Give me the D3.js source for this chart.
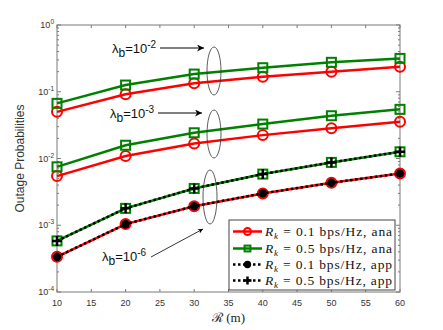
<!DOCTYPE html>
<html>
<head>
<meta charset="utf-8">
<script src="https://cdn.jsdelivr.net/npm/d3@7"></script>
<style>
body { margin: 0; background: #fff; }
svg text { font-family: "Liberation Sans", Arial, sans-serif; }
</style>
</head>
<body>
<svg id="chart" width="443" height="330"></svg>
<script>
// radius R (m)
var radius = [10, 20, 30, 40, 50, 60];

// lambda_b = 10^-2
var ana01_l2 = [0.050, 0.092, 0.134, 0.168, 0.200, 0.237];
var ana05_l2 = [0.067, 0.126, 0.184, 0.229, 0.276, 0.316];
// lambda_b = 10^-3
var ana01_l3 = [0.00545, 0.0109, 0.0168, 0.0224, 0.0283, 0.0355];
var ana05_l3 = [0.0075, 0.0158, 0.0243, 0.0328, 0.0437, 0.0545];
// lambda_b = 10^-6 (ana and app lie on top of each other)
var ana01_l6 = [0.000336, 0.00104, 0.00193, 0.0030, 0.00432, 0.00597];
var ana05_l6 = [0.000583, 0.00179, 0.00356, 0.00584, 0.00874, 0.0126];
var app01_l6 = [0.000336, 0.00104, 0.00193, 0.0030, 0.00432, 0.00597];
var app05_l6 = [0.000583, 0.00179, 0.00356, 0.00584, 0.00874, 0.0126];

var xTicks = [10, 15, 20, 25, 30, 35, 40, 45, 50, 55, 60];
var yExps = [0, -1, -2, -3, -4];
var legendRates = ["0.1", "0.5", "0.1", "0.5"];
var legendKinds = ["ana", "ana", "app", "app"];

var svg = d3.select("#chart");
var pLeft = 57, pRight = 400, pTop = 25, pBottom = 292;

var x = d3.scaleLinear().domain([10, 60]).range([pLeft, pRight]);
var y = d3.scaleLog().domain([1e-4, 1]).range([pBottom, pTop]);

var RED = "#ff0000", GREEN = "#008000", AXC = "#7a7a7a";

//axes box with ticks on all four sides
function drawAxes() {
  var g = svg.append("g");
  g.append("rect")
      .attr("x", pLeft).attr("y", pTop)
      .attr("width", pRight - pLeft).attr("height", pBottom - pTop)
      .attr("fill", "none").attr("stroke", AXC).attr("stroke-width", 1);

  xTicks.forEach(function(t) {
    var px = x(t);
    g.append("line").attr("x1", px).attr("x2", px).attr("y1", pBottom).attr("y2", pBottom - 3).attr("stroke", AXC);
    g.append("line").attr("x1", px).attr("x2", px).attr("y1", pTop).attr("y2", pTop + 3).attr("stroke", AXC);
    g.append("text").attr("x", px).attr("y", pBottom + 14)
        .attr("text-anchor", "middle").attr("font-size", 9).attr("fill", "#333")
        .text(t);
  });

  // minor log ticks
  for (var e = -4; e < 0; e++) {
    for (var m = 2; m <= 9; m++) {
      var py = y(m * Math.pow(10, e));
      g.append("line").attr("x1", pLeft).attr("x2", pLeft + 2).attr("y1", py).attr("y2", py).attr("stroke", AXC);
      g.append("line").attr("x1", pRight).attr("x2", pRight - 2).attr("y1", py).attr("y2", py).attr("stroke", AXC);
    }
  }

  yExps.forEach(function(e) {
    var py = y(Math.pow(10, e));
    g.append("line").attr("x1", pLeft).attr("x2", pLeft + 4).attr("y1", py).attr("y2", py).attr("stroke", AXC);
    g.append("line").attr("x1", pRight).attr("x2", pRight - 4).attr("y1", py).attr("y2", py).attr("stroke", AXC);
    var t = g.append("text").attr("x", pLeft - 3).attr("y", py + 3)
        .attr("text-anchor", "end").attr("font-size", 9).attr("fill", "#333");
    t.append("tspan").text("10");
    t.append("tspan").attr("dy", -4).attr("font-size", 6.5).text(e);
  });

  svg.append("text")
      .attr("transform", "translate(24," + ((pTop + pBottom) / 2) + ") rotate(-90)")
      .attr("text-anchor", "middle").attr("font-size", 12).attr("fill", "#333")
      .text("Outage Probabilities");

  svg.append("text")
      .attr("x", (pLeft + pRight) / 2).attr("y", 322)
      .attr("text-anchor", "middle").attr("font-size", 13)
      .style("font-family", "'Liberation Serif', serif").attr("fill", "#222")
      .text("\u211B (m)");
}

var line = d3.line()
    .x(function(d, i) { return x(radius[i]); })
    .y(function(d) { return y(d); });

function drawSolid(data, color) {
  svg.append("path").datum(data)
      .attr("d", line).attr("fill", "none")
      .attr("stroke", color).attr("stroke-width", 2.5);
}

function drawDotted(data) {
  svg.append("path").datum(data)
      .attr("d", line).attr("fill", "none")
      .attr("stroke", "#000").attr("stroke-width", 2.5)
      .attr("stroke-dasharray", "2.5,2.5");
}

// s = marker scale (plot 1, legend smaller)
function circleMark(g, cx, cy, s) {
  s = s || 1;
  g.append("circle").attr("cx", cx).attr("cy", cy).attr("r", 5 * s)
      .attr("fill", "none").attr("stroke", RED).attr("stroke-width", 2);
}
function squareMark(g, cx, cy, s) {
  s = s || 1;
  g.append("rect").attr("x", cx - 4.5 * s).attr("y", cy - 4.5 * s).attr("width", 9 * s).attr("height", 9 * s)
      .attr("fill", "none").attr("stroke", GREEN).attr("stroke-width", 2);
}
function dotMark(g, cx, cy, s) {
  s = s || 1;
  g.append("circle").attr("cx", cx).attr("cy", cy).attr("r", 4.3 * s).attr("fill", "#000");
}
function plusMark(g, cx, cy, s) {
  s = s || 1;
  var h = 5 * s;
  g.append("path").attr("d", "M" + (cx - h) + "," + cy + "H" + (cx + h) + "M" + cx + "," + (cy - h) + "V" + (cy + h))
      .attr("stroke", "#000").attr("stroke-width", 2.5);
}

function drawMarks(data, fn) {
  var g = svg.append("g");
  data.forEach(function(d, i) { fn(g, x(radius[i]), y(d)); });
}

function drawAnnotations() {
  var defs = svg.append("defs");
  defs.append("marker").attr("id", "bigHead")
      .attr("viewBox", "0 0 10 10").attr("refX", 10).attr("refY", 5)
      .attr("markerWidth", 10).attr("markerHeight", 7).attr("markerUnits", "userSpaceOnUse")
      .attr("orient", "auto")
      .append("path").attr("d", "M0,0 L10,5 L0,10 L3,5 Z").attr("fill", "#000");
  defs.append("marker").attr("id", "smallHead")
      .attr("viewBox", "0 0 10 10").attr("refX", 10).attr("refY", 5)
      .attr("markerWidth", 7).attr("markerHeight", 5).attr("markerUnits", "userSpaceOnUse")
      .attr("orient", "auto")
      .append("path").attr("d", "M0,0 L10,5 L0,10 L3,5 Z").attr("fill", "#000");

  var notes = [
    {label: "-2", tx: 112, ty: 53, x1: 160, y1: 48, x2: 204, y2: 48, head: "bigHead", ex: 214, ey: 71, ry: 24},
    {label: "-3", tx: 110, ty: 118, x1: 158, y1: 113, x2: 202, y2: 113, head: "bigHead", ex: 214, ey: 134, ry: 24},
    {label: "-6", tx: 102, ty: 261, x1: 151, y1: 257, x2: 203, y2: 229, head: "smallHead", ex: 210, ey: 197, ry: 27}
  ];
  notes.forEach(function(n) {
    var t = svg.append("text").attr("x", n.tx).attr("y", n.ty).attr("font-size", 13).attr("fill", "#111");
    t.append("tspan").text("\u03BB");
    t.append("tspan").attr("dy", 4).attr("font-size", 12).text("b");
    t.append("tspan").attr("dy", -4).text("=10");
    t.append("tspan").attr("dy", -5).attr("font-size", 10).text(n.label);
    svg.append("line").attr("x1", n.x1).attr("y1", n.y1).attr("x2", n.x2).attr("y2", n.y2)
        .attr("stroke", "#000").attr("stroke-width", n.head == "bigHead" ? 1 : 0.8)
        .attr("marker-end", "url(#" + n.head + ")");
    svg.append("ellipse").attr("cx", n.ex).attr("cy", n.ey).attr("rx", 7).attr("ry", n.ry)
        .attr("fill", "none").attr("stroke", "#333").attr("stroke-width", 0.8);
  });
}

function drawLegend() {
  var g = svg.append("g");
  var bx = 229, by = 220, bw = 166, bh = 70;
  g.append("rect").attr("x", bx).attr("y", by).attr("width", bw).attr("height", bh)
      .attr("fill", "#fff").attr("stroke", "#444").attr("stroke-width", 1);
  var rows = [231.5, 248.5, 264.5, 280.5];
  rows.forEach(function(ry, i) {
    var lx1 = 233, lx2 = 262, mx = (lx1 + lx2) / 2;
    var ln = g.append("line").attr("x1", lx1).attr("x2", lx2).attr("y1", ry).attr("y2", ry)
        .attr("stroke-width", 2.5);
    if (i == 0) { ln.attr("stroke", RED); circleMark(g, mx, ry, 0.7); }
    else if (i == 1) { ln.attr("stroke", GREEN); squareMark(g, mx, ry, 0.65); }
    else if (i == 2) { ln.attr("stroke", "#000").attr("stroke-dasharray", "2.5,2.5"); dotMark(g, mx, ry, 0.85); }
    else { ln.attr("stroke", "#000").attr("stroke-dasharray", "2.5,2.5"); plusMark(g, mx, ry, 0.8); }

    var t = g.append("text").attr("x", 265).attr("y", ry + 4.5).attr("font-size", 13.5)
        .attr("textLength", 127).attr("lengthAdjust", "spacing")
        .style("font-family", "'Liberation Serif', serif").attr("fill", "#111");
    t.append("tspan").attr("font-style", "italic").text("R");
    t.append("tspan").attr("font-style", "italic").attr("font-size", 9).attr("dy", 3).text("k");
    t.append("tspan").attr("dy", -3).text(" = " + legendRates[i] + " bps/Hz, " + legendKinds[i]);
  });
}

drawAxes();

drawSolid(ana01_l2, RED);
drawSolid(ana05_l2, GREEN);
drawSolid(ana01_l3, RED);
drawSolid(ana05_l3, GREEN);
drawSolid(ana01_l6, RED);
drawSolid(ana05_l6, GREEN);
drawMarks(ana01_l2, circleMark);
drawMarks(ana05_l2, squareMark);
drawMarks(ana01_l3, circleMark);
drawMarks(ana05_l3, squareMark);
drawMarks(ana01_l6, circleMark);
drawMarks(ana05_l6, squareMark);

drawDotted(app01_l6);
drawDotted(app05_l6);
drawMarks(app01_l6, dotMark);
drawMarks(app05_l6, plusMark);

drawAnnotations();
drawLegend();
</script>
</body>
</html>
